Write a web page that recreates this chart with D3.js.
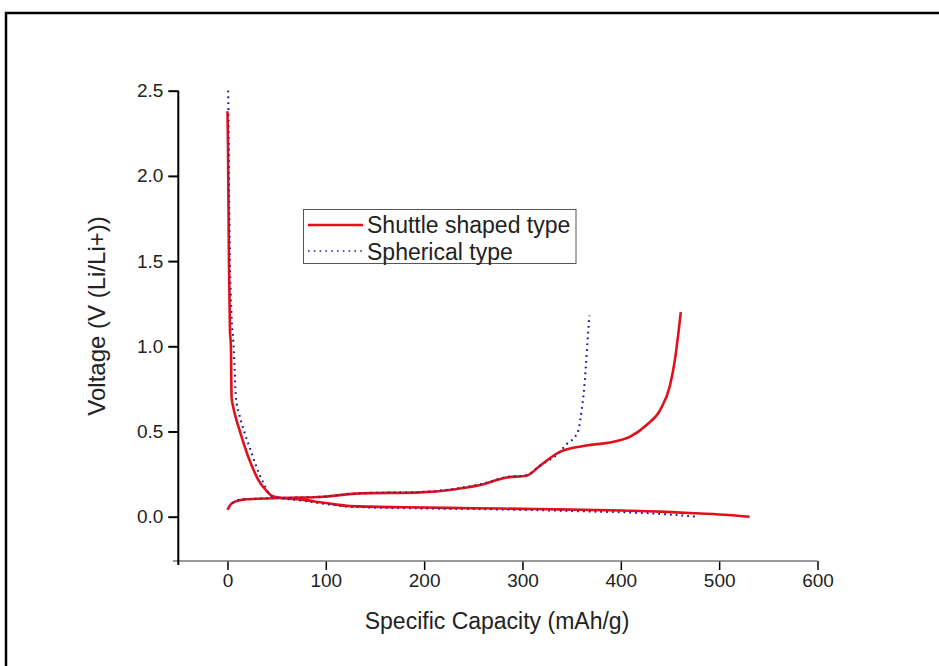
<!DOCTYPE html>
<html lang="en">
<head>
    <meta charset="UTF-8">
    <title>Voltage vs specific capacity</title>
    <script src="https://cdn.jsdelivr.net/npm/d3@7"></script>
    <style>
        body { margin: 0; background: #fff; }
        text { font-family: Arial, "Liberation Sans", sans-serif; fill: #222; }
    </style>
</head>
<body>
    <script>
        // curves: capacity (mAh/g) and voltage (V)
        var shuttleDisCap = [0, 0.5, 1.5, 2.5, 3.5, 4.2, 6, 9, 12.7, 17, 24.6, 33, 40, 46, 55, 75, 100, 125, 182, 250, 300, 338, 400, 440, 477, 510, 531];
        var shuttleDisV = [2.38, 2.2, 1.5, 1.1, 1.0, 0.70, 0.64, 0.57, 0.5, 0.42, 0.3, 0.2, 0.15, 0.12, 0.11, 0.1, 0.08, 0.062, 0.055, 0.05, 0.046, 0.043, 0.036, 0.03, 0.02, 0.01, 0.0];

        var shuttleChgCap = [0, 3, 7.6, 16, 30, 53, 75, 97.5, 135, 196, 230, 257, 284, 304, 318, 338, 362, 392.5, 409.5, 426.5, 440, 450, 455, 458.6, 461];
        var shuttleChgV = [0.04, 0.07, 0.088, 0.1, 0.105, 0.11, 0.112, 0.117, 0.137, 0.143, 0.16, 0.186, 0.23, 0.24, 0.30, 0.38, 0.415, 0.44, 0.47, 0.54, 0.626, 0.77, 0.92, 1.08, 1.2];

        var sphereDisCap = [0.8, 1.5, 2.5, 4, 6.3, 8.6, 12, 17, 23, 29, 36.4, 45, 55, 75, 100, 125, 182, 250, 300, 372, 430, 477];
        var sphereDisV = [2.5, 2.0, 1.5, 1.2, 1.0, 0.7, 0.6, 0.5, 0.4, 0.3, 0.2, 0.12, 0.108, 0.095, 0.075, 0.058, 0.05, 0.045, 0.04, 0.03, 0.02, 0.0];

        var sphereChgCap = [5, 12, 30, 53, 75, 97.5, 135, 196, 230, 257, 284, 304, 318, 338, 345, 353.5, 357, 360.4, 362.7, 364.4, 366, 368];
        var sphereChgV = [0.08, 0.1, 0.106, 0.11, 0.113, 0.118, 0.138, 0.145, 0.163, 0.19, 0.233, 0.243, 0.30, 0.38, 0.427, 0.47, 0.51, 0.636, 0.75, 0.88, 1.018, 1.18];

        var xTicks = [0, 100, 200, 300, 400, 500, 600];
        var yTicks = [0.0, 0.5, 1.0, 1.5, 2.0, 2.5];
        var seriesNames = ["Shuttle shaped type", "Spherical type"];

        var w = 939, h = 666;
        var red = "#e3101a", blue = "#1c1ca8";

        var svg = d3.select("body").append("svg")
            .attr("width", w)
            .attr("height", h);

        // outer frame (only top and left edges show)
        svg.append("rect")
            .attr("x", 6).attr("y", 13)
            .attr("width", 960).attr("height", 700)
            .attr("fill", "none")
            .attr("stroke", "#000")
            .attr("stroke-width", 2.5);

        var x = d3.scaleLinear().domain([-50, 600]).range([178.3, 817.5]);
        var y = d3.scaleLinear().domain([-0.26, 2.5]).range([561, 90.7]);

        // x axis
        var gx = svg.append("g").attr("transform", "translate(0,561)");
        gx.call(d3.axisBottom(x).tickValues(d3.range(-50, 601, 50).filter(function (d) { return d % 100 !== 0; }))
            .tickSize(5).tickFormat("").tickSizeOuter(0));
        gx.call(d3.axisBottom(x).tickValues(xTicks).tickSize(9).tickPadding(4).tickSizeOuter(0));
        gx.selectAll(".domain").remove();
        gx.append("line").attr("x1", 173).attr("x2", 817.5)
            .attr("stroke", "#777").attr("stroke-width", 1.5);
        gx.selectAll("line").attr("stroke-width", 1.5);
        gx.selectAll("text").attr("font-size", 19).attr("fill", "#222")
            .style("font-family", "Arial, 'Liberation Sans', sans-serif");

        // y axis
        var gy = svg.append("g").attr("transform", "translate(178.3,0)");
        gy.call(d3.axisLeft(y).tickValues([-0.25, 0.25, 0.75, 1.25, 1.75, 2.25]).tickSize(5).tickFormat("").tickSizeOuter(0));
        gy.call(d3.axisLeft(y).tickValues(yTicks).tickSize(10).tickPadding(5).tickFormat(d3.format(".1f")).tickSizeOuter(0));
        gy.selectAll(".domain").remove();
        gy.append("line").attr("y1", y(2.5)).attr("y2", 565)
            .attr("stroke", "#000").attr("stroke-width", 2);
        gy.selectAll("line").attr("stroke-width", 2);
        gy.selectAll("text").attr("font-size", 19).attr("fill", "#222")
            .style("font-family", "Arial, 'Liberation Sans', sans-serif");

        // axis titles
        svg.append("text")
            .attr("x", 497).attr("y", 629)
            .attr("text-anchor", "middle")
            .attr("font-size", 23)
            .text("Specific Capacity (mAh/g)");
        svg.append("text")
            .attr("transform", "translate(105,316) rotate(-90)")
            .attr("text-anchor", "middle")
            .attr("font-size", 24)
            .text("Voltage (V (Li/Li+))");

        var line = d3.line()
            .x(function (d) { return x(d[0]); })
            .y(function (d) { return y(d[1]); })
            .curve(d3.curveMonotoneX);

        function pairs(a, b) { return a.map(function (v, i) { return [v, b[i]]; }); }

        // spherical (blue dotted) first, red on top
        [pairs(sphereDisCap, sphereDisV), pairs(sphereChgCap, sphereChgV)].forEach(function (d) {
            svg.append("path").attr("d", line(d))
                .attr("fill", "none").attr("stroke", blue)
                .attr("stroke-width", 2).attr("stroke-dasharray", "1.6 4.2")
                .attr("stroke-linecap", "butt");
        });
        [pairs(shuttleDisCap, shuttleDisV), pairs(shuttleChgCap, shuttleChgV)].forEach(function (d) {
            svg.append("path").attr("d", line(d))
                .attr("fill", "none").attr("stroke", red)
                .attr("stroke-width", 2.6);
        });
        // blue dots show over red where they coincide
        [pairs(sphereDisCap, sphereDisV), pairs(sphereChgCap, sphereChgV)].forEach(function (d) {
            svg.append("path").attr("d", line(d))
                .attr("fill", "none").attr("stroke", blue)
                .attr("stroke-width", 1.5).attr("stroke-dasharray", "1.4 4.4")
                .attr("stroke-opacity", 0.8);
        });

        // legend
        var lg = svg.append("g");
        lg.append("rect")
            .attr("x", 303.5).attr("y", 209.5)
            .attr("width", 272.5).attr("height", 54)
            .attr("fill", "#fff").attr("stroke", "#555").attr("stroke-width", 1);
        lg.append("line").attr("x1", 308).attr("x2", 363).attr("y1", 225).attr("y2", 225)
            .attr("stroke", red).attr("stroke-width", 2.6);
        lg.append("line").attr("x1", 308).attr("x2", 363).attr("y1", 251).attr("y2", 251)
            .attr("stroke", blue).attr("stroke-width", 1.6).attr("stroke-dasharray", "1.6 4.2");
        lg.selectAll("text.lab").data(seriesNames).enter().append("text")
            .attr("class", "lab")
            .attr("x", 367)
            .attr("y", function (d, i) { return 225 + i * 26.5; })
            .attr("dy", "0.36em")
            .attr("font-size", 23)
            .text(function (d) { return d; });
    </script>
</body>
</html>
